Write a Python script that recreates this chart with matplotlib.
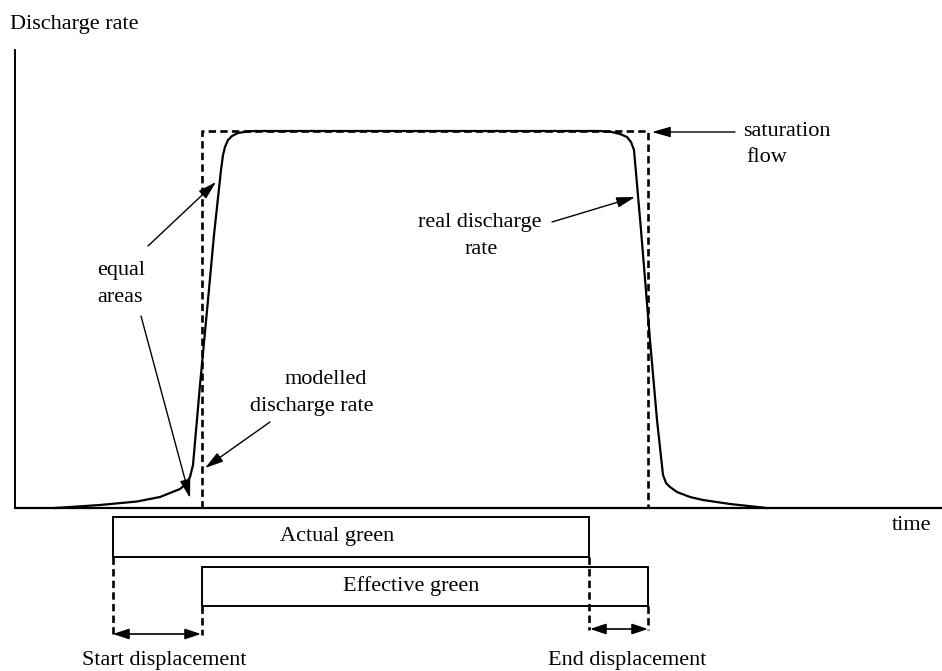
import matplotlib
matplotlib.use("Agg")
import matplotlib.pyplot as plt
from matplotlib.patches import Rectangle

# ---- data (diagram coordinates, pixel-like units, y grows downward) ----
real_x = [55, 100, 137, 160, 170, 180, 186, 190, 193, 200, 208, 214, 221, 223, 225, 228,
          232, 238, 247, 255, 600, 612, 620, 627, 631, 634, 641, 650, 657, 663, 666,
          670, 677, 690, 703, 730, 767]
real_y = [508, 505, 501.5, 497, 493, 489, 484, 477, 465, 385, 300, 235, 170, 155, 147, 140,
          136, 133, 131.5, 131, 131, 132, 134, 137, 142, 150, 230, 340, 420, 475, 483,
          487, 492, 497, 500, 504, 508]

model_x = [202, 202, 648, 648]
model_y = [508, 131, 131, 508]

axis_origin = (15, 508)
axis_top = 50
axis_right = 942

green_boxes = [  # label, x0, x1, y0, y1, label_x
    ("Actual green", 113, 589, 517, 557, 337),
    ("Effective green", 202, 648, 567, 606, 411),
]

disp_dash = [  # x, y_start, y_end
    (113, 557, 635), (202, 606, 635),
    (589, 557, 630), (648, 606, 630),
]
disp_arrows = [  # label, x0, x1, y, label_x
    ("Start displacement", 113, 201, 634, 164),
    ("End displacement", 590, 648, 629, 627),
]

annotations = [  # text_tail(x,y) -> head(x,y)
    ((148, 246), (216, 182)),
    ((141, 316), (190, 498)),
    ((270, 422), (205, 468)),
    ((552, 222), (635, 197)),
    ((735, 132), (652, 132)),
]

texts = [  # text, x, y, ha
    ("Discharge rate", 10, 24, "left"),
    ("time", 892, 525, "left"),
    ("equal", 97, 270, "left"),
    ("areas", 97, 298, "left"),
    ("modelled", 367, 380, "right"),
    ("discharge rate", 373, 407, "right"),
    ("real discharge", 480, 223, "center"),
    ("rate", 481, 250, "center"),
    ("saturation", 743, 132, "left"),
    ("flow", 746, 158, "left"),
]

# ---- drawing ----
plt.rcParams['font.family'] = ['Liberation Serif', 'DejaVu Serif']
FS = 16

fig = plt.figure(figsize=(9.42, 6.71), dpi=100)
ax = fig.add_axes([0, 0, 1, 1])
ax.set_xlim(0, 942)
ax.set_ylim(671, 0)
ax.axis('off')

DASH = (0, (2.8, 1.6))

# axes
ax.plot([axis_origin[0], axis_origin[0]], [axis_top, axis_origin[1]], color='black', lw=1.4)
ax.plot([axis_origin[0], axis_right], [axis_origin[1], axis_origin[1]], color='black', lw=1.6)

# modelled rate (dashed)
ax.plot(model_x, model_y, color='black', lw=1.9, linestyle=DASH)
# real discharge
ax.plot(real_x, real_y, color='black', lw=1.6, solid_joinstyle='round')

# green boxes
for label, x0, x1, y0, y1, lx in green_boxes:
    ax.add_patch(Rectangle((x0, y0), x1 - x0, y1 - y0, fill=False, edgecolor='black', lw=1.4))
    ax.text(lx, (y0 + y1) / 2, label, ha='center', va='center', fontsize=FS)

for x, ys, ye in disp_dash:
    ax.plot([x, x], [ys, ye], color='black', lw=1.9, linestyle=DASH)

for label, x0, x1, y, lx in disp_arrows:
    ax.annotate('', xy=(x1, y), xytext=(x0, y),
                arrowprops=dict(arrowstyle='<|-|>,head_length=0.6,head_width=0.2',
                                color='black', lw=1.2,
                                mutation_scale=16, shrinkA=0, shrinkB=0))
    ax.text(lx, 660, label, ha='center', va='center', fontsize=FS)

for (tx, ty), (hx, hy) in annotations:
    ax.annotate('', xy=(hx, hy), xytext=(tx, ty),
                arrowprops=dict(arrowstyle='-|>,head_length=0.7,head_width=0.2',
                                color='black', lw=1.0,
                                mutation_scale=16, shrinkA=0, shrinkB=0))

for t, x, y, ha in texts:
    ax.text(x, y, t, ha=ha, va='center', fontsize=FS)

fig.savefig('out.png', dpi=100)
